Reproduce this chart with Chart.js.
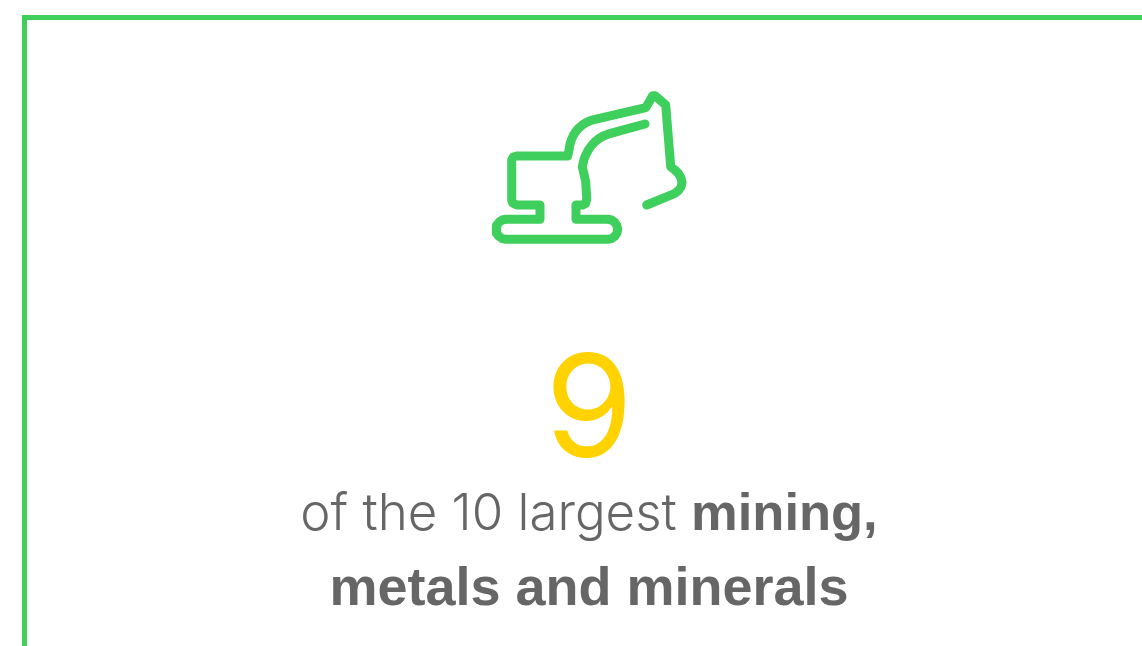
<!DOCTYPE html>
<html lang="en">
<head>
<meta charset="UTF-8" />
<title>9 of the 10 largest mining, metals and minerals</title>
<style>
  html, body { margin: 0; padding: 0; background: #fff; overflow: hidden; }
  #wrap { position: relative; width: 1142px; height: 646px; }
  canvas { position: absolute; left: 0; top: 0; }
  .txt { position: absolute; white-space: nowrap; text-align: center; color: #666; left: 0; width: 1178px; }
  .light { font-family: Inter, "Liberation Sans", sans-serif; font-weight: 300; }
  b { font-family: "Liberation Sans", Arial, sans-serif; font-weight: 700; }
  #big { top: 325px; font-size: 142px; line-height: 160px; color: #ffd200; font-weight: 400; }
  #line1 { top: 484px; font-size: 51px; line-height: 56px; }
  #line1 b { font-size: 52.5px; }
  #line2 { top: 558px; font-size: 54px; line-height: 56px; }
</style>
</head>
<body>
<div id="wrap">
  <canvas id="chart" width="1142" height="646"></canvas>
  <div id="big" class="txt light">9</div>
  <div id="line1" class="txt light">of the 10 largest <b>mining,</b></div>
  <div id="line2" class="txt"><b>metals and minerals</b></div>
</div>

<script src="https://cdn.jsdelivr.net/npm/chart.js"></script>
<script>
  const frameX = [24.5, 24.5, 1142];
  const frameY = [646, 17.5, 17.5];

  // excavator outline, one continuous line from bucket tip to inner arm
  const iconX = [646.7, 675, 678.5, 681, 682, 681, 678.5, 675, 670.7, 665.7, 655, 652.7, 645.7, 595, 590.5, 586.5, 582.5, 579, 576, 573.5, 571.5, 570, 569, 567.7, 516.7, 513.3, 511.7, 511.7, 512.7, 516.7, 540, 540, 506, 502.2, 499, 496.8, 496, 496.8, 499, 502.2, 506, 607.7, 611.5, 614.7, 616.9, 617.7, 616.9, 614.7, 611.5, 607.7, 576, 576, 582.7, 585.5, 586.7, 585.7, 582.3, 584.3, 586, 588.3, 591.5, 595, 599, 603.3, 608, 613.3, 645];
  const iconY = [205, 193.3, 190.5, 187, 182.5, 178, 173.5, 170, 166.7, 105, 95.7, 95.7, 107.7, 119.3, 120.6, 122.4, 124.8, 127.8, 131.3, 135, 139.5, 144, 150, 156, 156, 157, 160, 200, 203, 205, 205, 219.3, 219.3, 220, 222.2, 225.5, 229.3, 233.1, 236.4, 238.6, 239.3, 239.3, 238.6, 236.4, 233.1, 229.3, 225.5, 222.2, 220, 219.3, 219.3, 205, 205, 203.5, 199, 181.7, 166.7, 158.3, 154.5, 150, 145.5, 141.7, 138.5, 136, 134.2, 132.7, 124];

  const green = '#3fcf5c';

  function toPoints(xs, ys) {
    return xs.map((x, i) => ({ x: x, y: ys[i] }));
  }

  new Chart(document.getElementById('chart').getContext('2d'), {
    type: 'scatter',
    data: {
      datasets: [
        { data: toPoints(frameX, frameY), showLine: true, borderColor: green, borderWidth: 5, pointRadius: 0, clip: false, borderJoinStyle: 'miter' },
        { data: toPoints(iconX, iconY), showLine: true, borderColor: green, borderWidth: 9, pointRadius: 0, clip: false, borderCapStyle: 'round', borderJoinStyle: 'round', tension: 0 }
      ]
    },
    options: {
      responsive: false,
      animation: false,
      layout: { padding: 0 },
      plugins: { legend: { display: false }, tooltip: { enabled: false }, title: { display: false } },
      scales: {
        x: { type: 'linear', display: false, min: 0, max: 1142 },
        y: { type: 'linear', display: false, min: 0, max: 646, reverse: true }
      }
    }
  });
</script>
</body>
</html>
